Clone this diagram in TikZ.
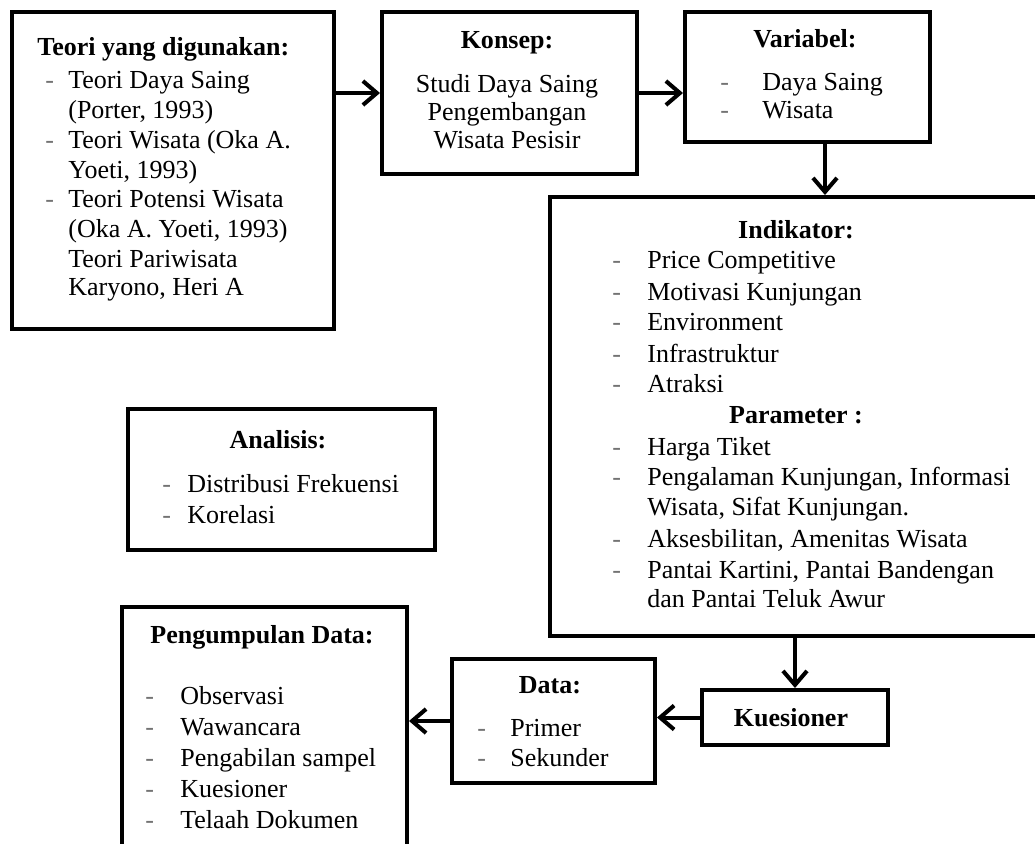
\documentclass[tikz,border=0pt]{standalone}
\usepackage{fontspec}
\setmainfont{Liberation Serif}
\usetikzlibrary{arrows.meta}

\tikzset{
  kotak/.style={draw, line width=2.3pt, inner sep=0pt, anchor=north west},
  judul/.style={anchor=base, inner sep=0pt, execute at begin node=\bfseries},
  isi/.style={anchor=base west, inner sep=0pt},
  isitengah/.style={anchor=base, inner sep=0pt},
  strip/.style={anchor=base west, inner sep=0pt, text=black!55},
  panah/.style={line width=2.3pt, -{Straight Barb[length=0.28cm, width=0.48cm]}}
}

\begin{document}
\begin{tikzpicture}[x=0.02cm, y=-0.02cm, font=\fontsize{14.8}{17}\selectfont]
    \clip (0,0) rectangle (1035,843);

    % Kotak-kotak
    \node[kotak, minimum width=6.44cm, minimum height=6.34cm] (teori) at (10,10) {};
    \node[kotak, minimum width=5.10cm, minimum height=3.24cm] (konsep) at (380,10) {};
    \node[kotak, minimum width=4.90cm, minimum height=2.60cm] (variabel) at (683,10) {};
    \node[kotak, minimum width=10.4cm, minimum height=8.78cm] (indikator) at (548,195) {};
    \node[kotak, minimum width=6.14cm, minimum height=2.82cm] (analisis) at (126,407) {};
    \node[kotak, minimum width=5.70cm, minimum height=5.40cm] (kumpul) at (120,605) {};
    \node[kotak, minimum width=4.06cm, minimum height=2.48cm] (data) at (450,657) {};
    \node[kotak, minimum width=3.72cm, minimum height=1.10cm] (kuesioner) at (700,688) {};

    % Teori yang digunakan
    \node[judul, anchor=base west] (teori-judul) at (37,55) {Teori yang digunakan:};
    \foreach \y in {88,148,207}
        \node[strip] (teori-s\y) at (45,\y) {-};
    \foreach \y/\t in {88/Teori Daya Saing, 118/{(Porter, 1993)}, 148/Teori Wisata (Oka A.,
                       178/{Yoeti, 1993)}, 207/Teori Potensi Wisata, 237/{(Oka A. Yoeti, 1993)},
                       267/Teori Pariwisata, 295/{Karyono, Heri A}}
        \node[isi] (teori-\y) at (68,\y) {\t};

    % Konsep
    \node[judul] (konsep-judul) at (507,48) {Konsep:};
    \foreach \y/\t in {92/Studi Daya Saing, 120/Pengembangan, 148/Wisata Pesisir}
        \node[isitengah] (konsep-\y) at (507,\y) {\t};

    % Variabel
    \node[judul] (variabel-judul) at (805,47) {Variabel:};
    \foreach \y/\t in {90/Daya Saing, 118/Wisata} {
        \node[strip] (variabel-s\y) at (720,\y) {-};
        \node[isi] (variabel-\y) at (762,\y) {\t};
    }

    % Indikator dan parameter
    \node[judul] (indikator-judul) at (796,238) {Indikator:};
    \node[judul] (parameter-judul) at (796,423) {Parameter :};
    \foreach \y in {268,300,330,362,392,455,485,547,578}
        \node[strip] (indikator-s\y) at (612,\y) {-};
    \foreach \y/\t in {268/Price Competitive, 300/Motivasi Kunjungan, 330/Environment,
                       362/Infrastruktur, 392/Atraksi, 455/Harga Tiket,
                       485/{Pengalaman Kunjungan, Informasi}, 515/{Wisata, Sifat Kunjungan.},
                       547/{Aksesbilitan, Amenitas Wisata}, 578/{Pantai Kartini, Pantai Bandengan},
                       607/dan Pantai Teluk Awur}
        \node[isi] (indikator-\y) at (647,\y) {\t};

    % Analisis
    \node[judul] (analisis-judul) at (278,448) {Analisis:};
    \foreach \y/\t in {492/Distribusi Frekuensi, 523/Korelasi} {
        \node[strip] (analisis-s\y) at (162,\y) {-};
        \node[isi] (analisis-\y) at (187,\y) {\t};
    }

    % Pengumpulan data
    \node[judul] (kumpul-judul) at (262,643) {Pengumpulan Data:};
    \foreach \y/\t in {704/Observasi, 735/Wawancara, 766/Pengabilan sampel, 797/Kuesioner, 828/Telaah Dokumen} {
        \node[strip] (kumpul-s\y) at (145,\y) {-};
        \node[isi] (kumpul-\y) at (180,\y) {\t};
    }

    % Data
    \node[judul] (data-judul) at (550,693) {Data:};
    \foreach \y/\t in {736/Primer, 766/Sekunder} {
        \node[strip] (data-s\y) at (477,\y) {-};
        \node[isi] (data-\y) at (510,\y) {\t};
    }

    % Kuesioner
    \node[judul] (kuesioner-judul) at (791,726) {Kuesioner};

    % Panah
    \coordinate (v-bawah) at ([xshift=0.35cm]variabel.south);
    \draw[panah] (konsep.west -| teori.east) -- (konsep.west);
    \draw[panah] (konsep.east) -- (konsep.east -| variabel.west);
    \draw[panah] (v-bawah) -- (v-bawah |- indikator.north);
    \draw[panah] (indikator.south -| kuesioner.north) -- (kuesioner.north);
    \draw[panah] (kuesioner.west) -- (kuesioner.west -| data.east);
    \draw[panah] (data.west) -- (data.west -| kumpul.east);
\end{tikzpicture}
\end{document}
